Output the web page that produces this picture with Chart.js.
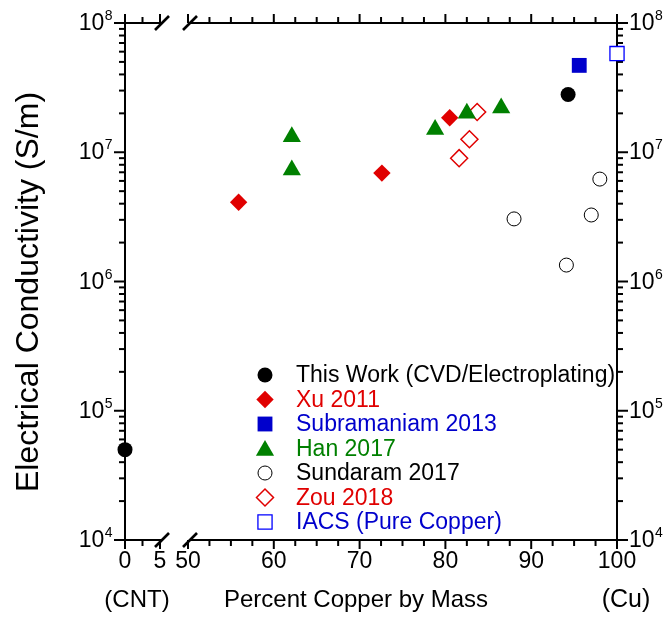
<!DOCTYPE html>
<html><head><meta charset="utf-8">
<script src="https://cdn.jsdelivr.net/npm/chart.js@4/dist/chart.umd.min.js"></script>
<style>html,body{margin:0;padding:0;background:#fff}canvas{display:block}</style>
</head><body>
<canvas id="c" width="670" height="626"></canvas>
<script>
// ---------------- data ----------------
const thisWorkX = [0, 94.3];
const thisWorkY = [5.0e4, 2.8e7];
const xuX = [55.9, 72.6, 80.5];
const xuY = [4.1e6, 6.9e6, 1.85e7];
const subramaniamX = [95.6];
const subramaniamY = [4.7e7];
const hanX = [62.1, 62.1, 78.8, 82.5, 86.5];
const hanY = [1.32e7, 7.3e6, 1.5e7, 2.0e7, 2.2e7];
const sundaramX = [88.0, 94.1, 97.0, 98.0];
const sundaramY = [3.05e6, 1.34e6, 3.27e6, 6.2e6];
const zouX = [81.6, 82.8, 83.7];
const zouY = [9.0e6, 1.26e7, 2.05e7];
const iacsX = [100];
const iacsY = [5.8e7];

const seriesNames = ["This Work (CVD/Electroplating)", "Xu 2011", "Subramaniam 2013", "Han 2017", "Sundaram 2017", "Zou 2018", "IACS (Pure Copper)"];
const xTickLabels = [0, 5, 50, 60, 70, 80, 90, 100];
const xMinorTicks = [2.5, 52.5, 55, 57.5, 62.5, 65, 67.5, 72.5, 75, 77.5, 82.5, 85, 87.5, 92.5, 95, 97.5];
const yDecades = [1e4, 1e5, 1e6, 1e7, 1e8];
const xTitle = "Percent Copper by Mass";
const yTitle = "Electrical Conductivity (S/m)";
const leftNote = "(CNT)";
const rightNote = "(Cu)";

// ---------------- broken x scale ----------------
const BRK = { aLo: 0, aHi: 5, bLo: 50, bHi: 100, fa0: 0, fa1: 35 / 492, fb0: 63 / 492, fb1: 1 };
function brokenFrac(v) {
  if (v <= BRK.aHi) return BRK.fa0 + (v - BRK.aLo) / (BRK.aHi - BRK.aLo) * (BRK.fa1 - BRK.fa0);
  if (v >= BRK.bLo) return BRK.fb0 + (v - BRK.bLo) / (BRK.bHi - BRK.bLo) * (BRK.fb1 - BRK.fb0);
  return BRK.fa1 + (v - BRK.aHi) / (BRK.bLo - BRK.aHi) * (BRK.fb0 - BRK.fa1);
}
function brokenValue(f) {
  if (f <= BRK.fa1) return BRK.aLo + (f - BRK.fa0) / (BRK.fa1 - BRK.fa0) * (BRK.aHi - BRK.aLo);
  if (f >= BRK.fb0) return BRK.bLo + (f - BRK.fb0) / (BRK.fb1 - BRK.fb0) * (BRK.bHi - BRK.bLo);
  return BRK.aHi + (f - BRK.fa1) / (BRK.fb0 - BRK.fa1) * (BRK.bLo - BRK.aHi);
}
class BrokenLinearScale extends Chart.LinearScale {
  getPixelForValue(value) { return this.getPixelForDecimal(brokenFrac(value)); }
  getValueForPixel(pixel) { return brokenValue(this.getDecimalForPixel(pixel)); }
}
BrokenLinearScale.id = 'brokenLinear';
BrokenLinearScale.defaults = Chart.LinearScale.defaults;
Chart.register(BrokenLinearScale);

// ---------------- styles ----------------
const FONT = "'Liberation Sans', Arial, Helvetica, sans-serif";
const RED = '#e00000', BLUE = '#0000cc', GREEN = '#008000';
function pts(xs, ys) { return xs.map((x, i) => ({ x: x, y: ys[i] })); }

const datasets = [
  { label: seriesNames[0], data: pts(thisWorkX, thisWorkY), pointStyle: 'circle', pointRadius: 7.5, backgroundColor: '#000', borderColor: '#000', borderWidth: 0, textColor: '#000' },
  { label: seriesNames[1], data: pts(xuX, xuY), pointStyle: 'rectRot', pointRadius: 8.7, backgroundColor: RED, borderColor: RED, borderWidth: 0, textColor: RED },
  { label: seriesNames[2], data: pts(subramaniamX, subramaniamY), pointStyle: 'rect', pointRadius: 10.5, backgroundColor: BLUE, borderColor: BLUE, borderWidth: 0, textColor: BLUE },
  { label: seriesNames[3], data: pts(hanX, hanY), pointStyle: 'triangle', pointRadius: 10.5, backgroundColor: GREEN, borderColor: GREEN, borderWidth: 0, textColor: GREEN },
  { label: seriesNames[4], data: pts(sundaramX, sundaramY), pointStyle: 'circle', pointRadius: 7, backgroundColor: '#fff', borderColor: '#000', borderWidth: 1, textColor: '#000' },
  { label: seriesNames[5], data: pts(zouX, zouY), pointStyle: 'rectRot', pointRadius: 8.5, backgroundColor: '#fff', borderColor: RED, borderWidth: 1.5, textColor: RED },
  { label: seriesNames[6], data: pts(iacsX, iacsY), pointStyle: 'rect', pointRadius: 10, backgroundColor: '#fff', borderColor: '#0000ff', borderWidth: 1.3, textColor: BLUE }
];
datasets.forEach(d => { d.clip = false; d.showLine = false; d.pointHoverRadius = d.pointRadius; });

function seg(ctx, x1, y1, x2, y2) { ctx.beginPath(); ctx.moveTo(x1, y1); ctx.lineTo(x2, y2); ctx.stroke(); }
function drawPow(ctx, exp, x, y, align) {
  ctx.font = '23px ' + FONT;
  const w1 = ctx.measureText('10').width;
  ctx.font = '14px ' + FONT;
  const w2 = ctx.measureText(String(exp)).width;
  const x0 = align === 'right' ? x - w1 - w2 : x;
  ctx.textAlign = 'left'; ctx.textBaseline = 'alphabetic';
  ctx.font = '23px ' + FONT; ctx.fillText('10', x0, y + 7);
  ctx.font = '14px ' + FONT; ctx.fillText(String(exp), x0 + w1 + 0.5, y - 3);
}

const axesPlugin = {
  id: 'brokenAxes',
  beforeDatasetsDraw(chart) {
    const ctx = chart.ctx, a = chart.chartArea, xs = chart.scales.x, ys = chart.scales.y;
    ctx.save();
    ctx.strokeStyle = '#000'; ctx.fillStyle = '#000'; ctx.lineWidth = 2; ctx.lineCap = 'butt';
    // frame
    seg(ctx, a.left, a.top - 1, a.left, a.bottom + 1);
    seg(ctx, a.right, a.top - 1, a.right, a.bottom + 1);
    const b1 = xs.getPixelForValue(BRK.aHi) + 2, b2 = xs.getPixelForValue(BRK.bLo) + 2;
    [a.top, a.bottom].forEach(yy => { seg(ctx, a.left - 1, yy, b1, yy); seg(ctx, b2, yy, a.right + 1, yy); });
    // x ticks (bottom outward down, top outward up)
    xTickLabels.forEach(v => { const p = xs.getPixelForValue(v); seg(ctx, p, a.bottom, p, a.bottom + 9); seg(ctx, p, a.top, p, a.top - 9); });
    xMinorTicks.forEach(v => { const p = xs.getPixelForValue(v); seg(ctx, p, a.bottom, p, a.bottom + 6); seg(ctx, p, a.top, p, a.top - 6); });
    // break slashes
    ctx.lineWidth = 2.6;
    [a.top, a.bottom].forEach(yy => [b1, b2].forEach(bx => seg(ctx, bx - 7, yy + 7, bx + 7, yy - 7)));
    ctx.lineWidth = 2;
    // y ticks
    yDecades.forEach((d, i) => {
      const p = ys.getPixelForValue(d);
      seg(ctx, a.left - 11, p, a.left, p); seg(ctx, a.right, p, a.right + 11, p);
      if (i < yDecades.length - 1) {
        for (let k = 2; k <= 9; k++) {
          const q = ys.getPixelForValue(k * d);
          seg(ctx, a.left - 6, q, a.left, q); seg(ctx, a.right, q, a.right + 6, q);
        }
      }
    });
    // x tick labels
    ctx.font = '23px ' + FONT; ctx.textAlign = 'center'; ctx.textBaseline = 'middle';
    xTickLabels.forEach(v => ctx.fillText(String(v), xs.getPixelForValue(v), a.bottom + 22));
    // y tick labels, both sides
    yDecades.forEach(d => {
      const p = ys.getPixelForValue(d), e = Math.round(Math.log10(d));
      drawPow(ctx, e, a.left - 13, p, 'right');
      drawPow(ctx, e, a.right + 12, p, 'left');
    });
    // axis titles and notes
    ctx.font = '24px ' + FONT; ctx.textAlign = 'center'; ctx.textBaseline = 'middle';
    ctx.fillText(xTitle, 356, a.bottom + 60);
    ctx.fillText(leftNote, a.left + 12, a.bottom + 60);
    ctx.font = '25px ' + FONT;
    ctx.fillText(rightNote, a.right + 9, a.bottom + 60);
    ctx.save();
    ctx.translate(29, 292); ctx.rotate(-Math.PI / 2);
    ctx.font = '32px ' + FONT;
    ctx.fillText(yTitle, 0, 0);
    ctx.restore();
    ctx.restore();
  },
  afterDatasetsDraw(chart) {
    const ctx = chart.ctx;
    ctx.save();
    chart.data.datasets.forEach((d, i) => {
      const y = 375 + i * 24.5;
      ctx.fillStyle = d.backgroundColor; ctx.strokeStyle = d.borderColor; ctx.lineWidth = d.borderWidth;
      Chart.helpers.drawPoint(ctx, { pointStyle: d.pointStyle, radius: d.pointRadius, rotation: 0, borderWidth: d.borderWidth }, 265, y + (d.pointStyle === 'triangle' ? 2 : 0));
      ctx.fillStyle = d.textColor; ctx.font = '23px ' + FONT; ctx.textAlign = 'left'; ctx.textBaseline = 'middle';
      ctx.fillText(d.label, 296, y + 1);
    });
    ctx.restore();
  }
};

new Chart(document.getElementById('c'), {
  type: 'scatter',
  data: { datasets: datasets },
  options: {
    responsive: false, animation: false, devicePixelRatio: 1, events: [],
    layout: { padding: { left: 125, right: 53, top: 23, bottom: 86 } },
    plugins: { legend: { display: false }, tooltip: { enabled: false } },
    scales: {
      x: { type: 'brokenLinear', min: 0, max: 100, display: false },
      y: { type: 'logarithmic', min: 1e4, max: 1e8, display: false }
    }
  },
  plugins: [axesPlugin]
});
</script>
</body></html>
